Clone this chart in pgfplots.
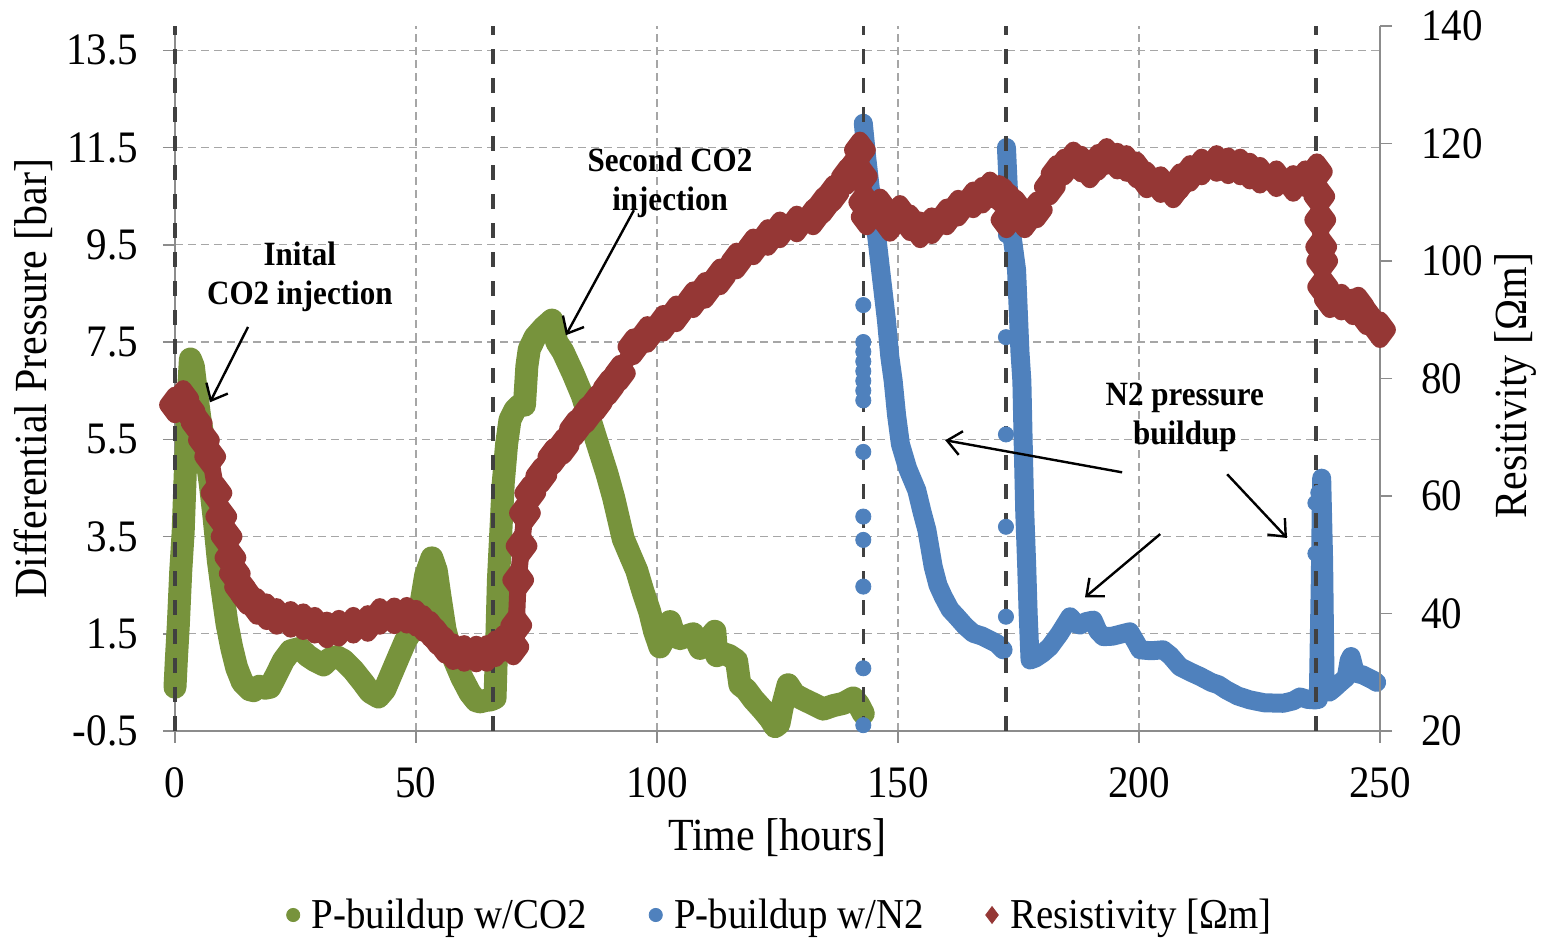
\documentclass[border=0pt]{standalone}
\usepackage{fontspec}
\setmainfont{Liberation Serif}[FakeStretch=0.913]
\usepackage{pgfplots}
\pgfplotsset{compat=1.18}
\usetikzlibrary{arrows.meta}
\definecolor{cgreen}{HTML}{77933C}
\definecolor{cblue}{HTML}{4F81BD}
\definecolor{cred}{HTML}{953735}
\definecolor{gridc}{HTML}{A6A6A6}
\definecolor{axc}{HTML}{8C8C8C}
\definecolor{vdash}{HTML}{404040}
\newcommand{\tickfont}{\fontsize{22.5}{26}\selectfont}
\newcommand{\labfont}{\fontsize{23}{27}\selectfont}
\newcommand{\annfont}{\bfseries\fontsize{17}{19.5}\selectfont}
\begin{document}
\begin{tikzpicture}
\useasboundingbox (-87.5pt,-104.5pt) rectangle (686pt,365.5pt);
\begin{axis}[
  at={(0,0)}, anchor=south west, scale only axis,
  width=602.5pt, height=352.5pt,
  xmin=0, xmax=250, ymin=-0.5, ymax=14,
  clip=false,
  axis x line*=bottom, axis y line*=left,
  axis line style={draw=axc, line width=0.75pt, -},
  xtick={0,50,...,250},
  ytick={-0.5,1.5,...,13.5},
  tick align=outside, major tick length=6pt,
  tick style={draw=axc, line width=0.75pt},
  grid=major,
  major grid style={draw=gridc, line width=0.6pt, dash pattern=on 4pt off 2.5pt},
  /pgf/number format/assume math mode=true,
  tick label style={font=\tickfont},
  xticklabel style={yshift=-9pt},
  yticklabel style={xshift=-9pt, /pgf/number format/.cd, fixed, fixed zerofill, precision=1},
  xlabel={Time [hours]},
  ylabel={Differential Pressure [bar]},
  label style={font=\labfont},
  xlabel style={at={([yshift=-53.5pt]axis description cs:0.5,0)}, anchor=center},
  ylabel style={at={([xshift=-71pt]axis description cs:0,0.5)}, anchor=center},
  unbounded coords=jump,
]
% P-buildup w/CO2
\addplot[cgreen, line width=11.5pt, line join=round, line cap=round, forget plot] coordinates {
(0,0.40) (0.3,1.0) (0.7,1.7) (1.2,2.8) (1.7,3.6) (2.2,5.0) (2.7,6.3) (3.2,7.15) (3.8,7.0) (4.4,6.5) (5.2,5.9) (6.3,5.3) (7.3,4.6) (8.1,3.9) (9.0,3.0) (9.8,2.4) (10.8,1.7) (11.8,1.2) (12.8,0.8) (14.0,0.5) (15.5,0.35) (16.3,0.33) (17.5,0.42) (18.7,0.38) (19.7,0.40) (21.0,0.65) (22.5,0.95) (24.0,1.15) (25.9,1.20) (27.5,1.05) (29.0,0.95) (30.8,0.86) (32.0,0.98) (33.5,1.03) (35.0,0.95) (37.0,0.75) (39.0,0.50) (40.5,0.30) (42.2,0.20) (43.5,0.35) (45.0,0.70) (46.5,1.05) (47.8,1.35) (49.0,1.55) (50.1,1.75) (51.0,2.1) (52.0,2.7) (53.3,3.06) (54.2,2.8) (55.0,2.25) (56.0,1.6) (57.0,1.2) (58.0,0.95) (59.5,0.6) (61.2,0.28) (62.5,0.12) (63.3,0.10) (64.5,0.13) (65.5,0.14) (66.4,0.18) (66.8,1.5) (67.1,2.6) (67.6,3.6) (68.1,4.6) (68.8,5.4) (69.5,5.9) (70.5,6.1) (71.5,6.2) (72.5,6.2) (73.0,7.0) (73.5,7.35) (74.7,7.6) (76.5,7.8) (78.2,7.95) (79.2,7.5) (80.5,7.3) (82.6,6.85) (84.5,6.4) (86.1,5.9) (88.0,5.3) (89.6,4.8) (91.0,4.3) (93.0,3.45) (94.5,3.1) (95.8,2.8) (97.0,2.4) (98.5,1.95) (99.5,1.55) (100.6,1.23) (101.5,1.4) (102.7,1.75) (103.6,1.45) (104.8,1.4) (106.0,1.45) (107.5,1.5) (108.9,1.2) (110.0,1.3) (111.2,1.45) (112.0,1.55) (112.4,1.05) (113.5,1.1) (115.0,1.05) (116.5,0.95) (117.2,0.45) (118.5,0.35) (120.0,0.15) (122.0,-0.07) (123.5,-0.25) (124.5,-0.41) (125.3,-0.35) (126.0,0.0) (127.2,0.45) (128.5,0.25) (130.4,0.15) (132.5,0.05) (134.5,-0.05) (136.5,0.02) (138.7,0.07) (140.7,0.18) (141.8,0.05) (142.8,-0.14)
};
% P-buildup w/N2 (continuous part)
\addplot[cblue, line width=9.5pt, line join=round, line cap=round, forget plot] coordinates {
(142.8,12.0) (143.5,11.3) (144.2,10.7) (145.0,10.1) (145.6,9.66) (146.6,8.8) (147.6,7.95) (148.3,7.2) (149.0,6.7) (149.7,6.0) (150.5,5.4) (152.0,4.9) (153.9,4.45) (155.0,4.0) (156.0,3.63) (157.3,2.88) (158.3,2.5) (159.4,2.26) (160.8,2.0) (162.2,1.85) (164.0,1.65) (165.6,1.51) (167.5,1.45) (169.1,1.37) (170.5,1.3) (171.8,1.17)
(172.4,nan)
(172.5,11.5) (173.2,10.0) (173.9,9.5) (174.6,8.98) (175.3,7.3) (175.7,6.7) (176.0,5.3) (176.3,4.0) (176.7,2.9) (177.0,1.92) (177.4,0.96) (178.5,1.0) (180.0,1.1) (181.5,1.23) (183.5,1.5) (185.7,1.85) (187.0,1.7) (187.8,1.68) (189.0,1.75) (190.5,1.78) (191.5,1.55) (192.6,1.44) (194.5,1.45) (196.5,1.5) (198.1,1.54) (199.5,1.3) (200.2,1.17) (202.5,1.15) (205.0,1.17) (206.5,1.05) (208.5,0.82) (210.5,0.72) (212.7,0.62) (215.0,0.5) (216.5,0.45) (218.2,0.34) (220.5,0.22) (223.0,0.14) (226.0,0.08) (229.9,0.07) (232.0,0.12) (233.4,0.2) (235.0,0.15) (236.5,0.14) (237.2,0.15) (237.6,2.5) (237.9,4.7) (238.3,3.0) (238.6,0.5) (239.5,0.3) (240.5,0.38) (241.6,0.48) (243.0,0.6) (243.6,0.95) (244.0,1.03) (244.6,0.8) (245.0,0.69) (246.5,0.65) (248.5,0.55) (249.3,0.5)
};
% P-buildup w/N2 (scattered points)
\addplot[only marks, mark=*, mark size=3.8pt, cblue, forget plot] coordinates {
(142.8,8.26) (142.8,7.5) (142.8,7.3) (142.8,7.1) (142.8,6.9) (142.8,6.7) (142.8,6.5) (142.8,6.3) (142.8,5.24) (142.8,3.91) (142.8,3.43) (142.8,2.47) (142.8,0.79) (142.8,-0.38)
(172.4,9.7) (172.4,7.6) (172.4,5.6) (172.4,3.7) (172.4,1.85)
(236.6,4.19) (236.6,3.15) (237.2,4.4)
};
% event markers
\addplot[vdash, line width=1.7pt, dash pattern=on 7.5pt off 7pt, forget plot] coordinates {(0,-0.5) (0,14)};
\addplot[vdash, line width=1.7pt, dash pattern=on 7.5pt off 7pt, forget plot] coordinates {(66,-0.5) (66,14)};
\addplot[vdash, line width=1.7pt, dash pattern=on 7.5pt off 7pt, forget plot] coordinates {(142.8,-0.5) (142.8,14)};
\addplot[vdash, line width=1.7pt, dash pattern=on 7.5pt off 7pt, forget plot] coordinates {(172.4,-0.5) (172.4,14)};
\addplot[vdash, line width=1.7pt, dash pattern=on 7.5pt off 7pt, forget plot] coordinates {(236.7,-0.5) (236.7,14)};
% annotations
\node[font=\annfont, align=center] at (axis cs:25.9,8.85) {Inital\\CO2 injection};
\draw[-{Straight Barb[length=7pt,width=12pt]}, line width=1.2pt] (axis cs:15.15,7.81) -- (axis cs:7.26,6.26);
\node[font=\annfont, align=center] at (axis cs:102.7,10.78) {Second CO2\\injection};
\draw[-{Straight Barb[length=7pt,width=12pt]}, line width=1.2pt] (axis cs:95.2,10.21) -- (axis cs:81.1,7.64);
\node[font=\annfont, align=center] at (axis cs:209.5,5.95) {N2 pressure\\buildup};
\draw[-{Straight Barb[length=7pt,width=12pt]}, line width=1.2pt] (axis cs:196.5,4.82) -- (axis cs:159.8,5.48);
\draw[-{Straight Barb[length=7pt,width=12pt]}, line width=1.2pt] (axis cs:204.4,3.55) -- (axis cs:188.8,2.25);
\draw[-{Straight Barb[length=7pt,width=12pt]}, line width=1.2pt] (axis cs:218.3,4.78) -- (axis cs:230.7,3.47);
\end{axis}
\begin{axis}[
  at={(0,0)}, anchor=south west, scale only axis,
  width=602.5pt, height=352.5pt,
  xmin=0, xmax=250, ymin=20, ymax=140,
  clip=false,
  axis x line=none, axis y line*=right,
  axis line style={draw=axc, line width=0.75pt, -},
  xtick=\empty,
  ytick={20,40,...,140},
  tick align=outside, major tick length=6pt,
  tick style={draw=axc, line width=0.75pt},
  /pgf/number format/assume math mode=true,
  tick label style={font=\tickfont},
  yticklabel style={xshift=11pt},
  ylabel={Resitivity [Ωm]},
  label style={font=\labfont},
  ylabel style={at={([xshift=67.5pt]axis description cs:1,0.49)}, anchor=center},
  legend style={at={(0.503,-0.261)}, anchor=center, draw=none, fill=none,
    legend columns=3, font=\fontsize{21.3}{25}\selectfont,
    /tikz/every even column/.append style={column sep=29pt}},
  legend cell align=left,
  legend image code/.code={\draw[#1] plot coordinates {(0pt,0pt)}; \path (7pt,0pt);},
]
\addlegendimage{only marks, mark=*, mark size=3.3pt, cgreen}
\addlegendentry{P-buildup w/CO2}
\addlegendimage{only marks, mark=*, mark size=3.3pt, cblue}
\addlegendentry{P-buildup w/N2}
\addlegendimage{only marks, mark=diamond*, mark size=4.2pt, cred}
\addlegendentry{Resistivity [Ωm]}
\addplot[cred, line width=8.5pt, line join=round, mark=diamond*, mark size=4.9pt, mark options={solid}, forget plot] coordinates {
(0,75.5) (1.7,76.6) (3.0,74.5) (4.5,72.4) (6.0,69.5) (7.3,66.7) (8.6,60.5) (9.6,56.5) (10.7,53.1) (11.5,49.5) (12.4,46.8) (13.5,44.5) (14.9,42.9) (17.0,41.2) (19.0,40.3) (21.1,39.5) (24.0,39.0) (26.6,38.6) (29.0,38.0) (31.5,37.2) (34.0,37.5) (37.0,38.0) (40.0,38.3) (42.5,39.5) (45.5,39.6) (48.1,39.7) (50.0,39.2) (51.5,38.3) (53.0,37.3) (54.3,36.1) (56.0,34.6) (57.7,33.5) (60.0,33.2) (62.5,33.1) (64.7,33.2) (66.5,34.0) (68.1,34.9) (70.2,34.3) (70.8,38.0) (71.2,45.7) (71.9,51.5) (72.6,57.1) (73.7,60.5) (76.0,63.5) (78.5,66.7) (80.6,68.5) (83.0,71.5) (85.4,73.8) (87.5,75.8) (90.0,78.5) (92.3,80.9) (95.1,85.4) (98.0,87.5) (101.3,89.4) (104.0,91.0) (107.5,93.4) (110.0,95.0) (113.1,97.3) (116.5,100.0) (120.0,102.4) (123.0,104.0) (125.5,105.3) (129.0,106.3) (132.4,107.5) (134.5,109.5) (136.6,111.5) (139.4,114.4) (141.0,116.0) (142.1,118.9) (142.5,114.4) (143.0,110.0) (143.5,107.5) (145.0,108.5) (146.3,109.2) (148.3,106.4) (150.4,108.1) (152.5,106.5) (154.6,105.3) (157.0,106.0) (160.1,107.5) (162.5,109.0) (165.6,110.4) (167.5,111.2) (169.1,112.1) (171.0,111.5) (172.0,111.0) (172.5,107.0) (173.2,110.0) (174.5,109.0) (176.3,107.0) (178.8,108.7) (181.5,112.6) (182.9,114.9) (184.5,116.0) (186.4,117.2) (188.0,116.5) (189.8,115.5) (191.5,116.8) (193.3,117.8) (195.5,117.0) (197.4,116.6) (199.5,115.5) (201.6,113.8) (204.5,113.0) (207.1,112.1) (208.5,113.5) (210.6,114.9) (213.0,116.0) (216.1,116.6) (218.5,116.2) (221.0,116.0) (223.0,115.3) (225.1,114.6) (228.5,114.0) (232.0,113.2) (234.5,114.0) (236.9,115.2) (237.4,111.0) (237.6,107.0) (237.8,102.4) (238.0,100.0) (238.2,95.6) (239.6,93.4) (242.0,93.0) (244.4,92.2) (245.5,92.5) (247.2,90.5) (250.0,88.3)
};
\end{axis}
\end{tikzpicture}
\end{document}
